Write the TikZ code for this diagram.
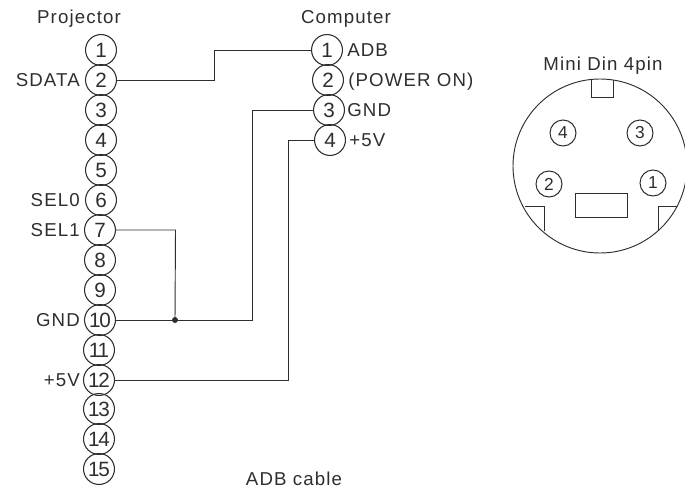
\documentclass[tikz,border=0pt]{standalone}
\usepackage{fontspec}
\setmainfont{Liberation Sans}
\newfontface\lblfont[LetterSpace=6]{Liberation Sans}
\newfontface\tightfont[LetterSpace=-7]{Liberation Sans}
\definecolor{ink}{HTML}{2E2E2E}
\tikzset{
  x=0.75pt,y=-0.75pt,
  wire/.style={draw=ink,line width=0.7pt},
  pin/.style={circle,draw=ink,line width=0.8pt,minimum size=23.2pt,inner sep=0pt,text=ink,font=\fontsize{15.5}{15.5}\selectfont},
  minipin/.style={circle,draw=ink,line width=0.75pt,minimum size=19.5pt,inner sep=0pt,text=ink,font=\fontsize{13}{13}\selectfont},
  lbl/.style={inner sep=0pt,text=ink,text height=10pt,text depth=0pt,font=\fontsize{14}{14}\selectfont\lblfont},
  shell/.style={draw=ink,line width=0.7pt,fill=none},
}
\begin{document}
\begin{tikzpicture}
\useasboundingbox (0,0) rectangle (685,489);
% Projector pins
\node[pin] (p1) at (101,50) {1};
\node[pin] (p2) at (101,80) {2};
\node[pin] (p3) at (101,110) {3};
\node[pin] (p4) at (101,140) {4};
\node[pin] (p5) at (101,170) {5};
\node[pin] (p6) at (101,200) {6};
\node[pin] (p7) at (100,230) {7};
\node[pin] (p8) at (100,260) {8};
\node[pin] (p9) at (100,290) {9};
\node[pin] (p10) at (100,320) {\tightfont 10};
\node[pin] (p11) at (99,350) {\tightfont 11};
\node[pin] (p12) at (99,380) {\tightfont 12};
\node[pin] (p13) at (99,409) {\tightfont 13};
\node[pin] (p14) at (99,439) {\tightfont 14};
\node[pin] (p15) at (99,469) {\tightfont 15};
% Computer pins
\node[pin] (c1) at (327,50) {1};
\node[pin] (c2) at (328,80) {2};
\node[pin] (c3) at (329,110) {3};
\node[pin] (c4) at (330,140) {4};
% Titles and labels
\node[lbl] (tp) at (79,17) {Projector};
\node[lbl] (tc) at (346,17) {Computer};
\node[lbl] (tm) at (603,64) {Mini Din 4pin};
\node[lbl] (tb) at (294,479) {ADB cable};
\node[lbl,anchor=east] (l2) at (80,80) {SDATA};
\node[lbl,anchor=east] (l6) at (80,200) {SEL0};
\node[lbl,anchor=east] (l7) at (80,230) {SEL1};
\node[lbl,anchor=east] (l10) at (80,320) {GND};
\node[lbl,anchor=east] (l12) at (80,380) {+5V};
\node[lbl,anchor=west] (r1) at (347,50) {ADB};
\node[lbl,anchor=west] (r2) at (348,80) {(POWER ON)};
\node[lbl,anchor=west] (r3) at (347,110) {GND};
\node[lbl,anchor=west] (r4) at (349,140) {+5V};
% Wiring
\coordinate (j) at (175,320);
\draw[wire] (p2.east) -- ++(97.5,0) |- (c1.west);
\draw[wire] (p7.east) -- ++(59.5,0) -- (j);
\draw[wire] (p10.east) -- ++(136,0) |- (c3.west);
\draw[wire] (p12.east) -- ++(173.5,0) |- (c4.west);
\fill[ink] (j) circle (3);
% Mini DIN connector
\begin{scope}
\clip (0,0) rectangle (685,489);
\draw[shell] (600,166) circle (87);
\end{scope}
\draw[shell] (591,80) -- (591,97) -- (613,97) -- (613,80);
\draw[shell] (525,206) -- (544,206) -- (544,231);
\draw[shell] (677,206) -- (658,206) -- (658,231);
\draw[shell] (575,193) rectangle (627,217);
\node[minipin] (m4) at (563,133) {4};
\node[minipin] (m3) at (640,133) {3};
\node[minipin] (m2) at (549,184) {2};
\node[minipin] (m1) at (653,183) {1};
\end{tikzpicture}
\end{document}
